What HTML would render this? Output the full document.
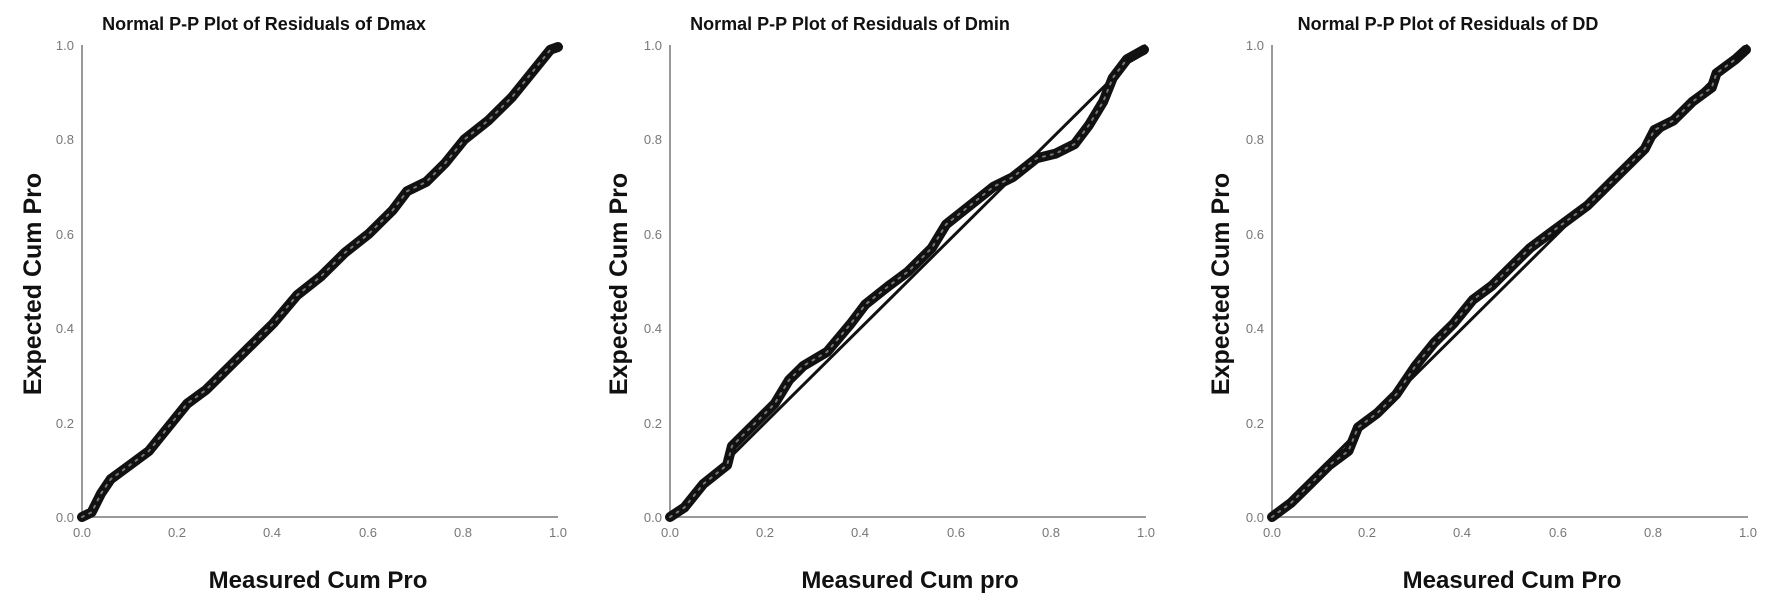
<!DOCTYPE html>
<html><head><meta charset="utf-8"><style>
html,body{margin:0;padding:0;background:#fff;width:1772px;height:596px;overflow:hidden}
svg{display:block}
.t{font-family:"Liberation Sans",Arial,sans-serif;font-weight:bold;fill:#111}
.k{font-family:"Liberation Sans",Arial,sans-serif;font-size:13px;fill:#777}
</style></head><body>
<svg width="1772" height="596" viewBox="0 0 1772 596" xmlns="http://www.w3.org/2000/svg">

<!-- Plot 1 -->
<g transform="translate(82,45)">
<line x1="0" y1="0" x2="0" y2="472" stroke="#999" stroke-width="2"/>
<line x1="0" y1="472" x2="476" y2="472" stroke="#999" stroke-width="2"/>
<g class="k" text-anchor="end">
<text x="-8" y="5">1.0</text><text x="-8" y="99">0.8</text><text x="-8" y="194">0.6</text><text x="-8" y="288">0.4</text><text x="-8" y="383">0.2</text><text x="-8" y="477">0.0</text>
</g>
<g class="k" text-anchor="middle">
<text x="0" y="492">0.0</text><text x="95" y="492">0.2</text><text x="190" y="492">0.4</text><text x="286" y="492">0.6</text><text x="381" y="492">0.8</text><text x="476" y="492">1.0</text>
</g>
<polyline fill="none" stroke="#111" stroke-width="10" stroke-linejoin="round" stroke-linecap="round" points="0,472 9.6,467.3 19.1,448.4 28.7,434.2 47.8,420.1 66.9,406 86,382.4 105.2,358.7 124.3,344.6 143.4,325.7 167.3,302.1 191.2,278.5 215.1,250.2 239,231.3 262.9,207.7 286.8,188.8 310.7,165.2 325,146.3 344.2,136.9 363.3,118 382.4,94.4 406.3,75.5 430.2,51.9 449.3,28.3 468.4,4.7 476,2"/>
<polyline fill="none" stroke="#777" stroke-width="2" stroke-dasharray="2 6" stroke-linecap="round" points="0,472 9.6,467.3 19.1,448.4 28.7,434.2 47.8,420.1 66.9,406 86,382.4 105.2,358.7 124.3,344.6 143.4,325.7 167.3,302.1 191.2,278.5 215.1,250.2 239,231.3 262.9,207.7 286.8,188.8 310.7,165.2 325,146.3 344.2,136.9 363.3,118 382.4,94.4 406.3,75.5 430.2,51.9 449.3,28.3 468.4,4.7"/>
</g>
<text class="t" x="264" y="30" font-size="18" text-anchor="middle">Normal P-P Plot of Residuals of Dmax</text>
<text class="t" x="318" y="588" font-size="24" text-anchor="middle">Measured Cum Pro</text>
<text class="t" font-size="25" text-anchor="middle" transform="translate(41,284) rotate(-90)">Expected Cum Pro</text>

<!-- Plot 2 -->
<g transform="translate(670,45)">
<line x1="0" y1="0" x2="0" y2="472" stroke="#999" stroke-width="2"/>
<line x1="0" y1="472" x2="476" y2="472" stroke="#999" stroke-width="2"/>
<g class="k" text-anchor="end">
<text x="-8" y="5">1.0</text><text x="-8" y="99">0.8</text><text x="-8" y="194">0.6</text><text x="-8" y="288">0.4</text><text x="-8" y="383">0.2</text><text x="-8" y="477">0.0</text>
</g>
<g class="k" text-anchor="middle">
<text x="0" y="492">0.0</text><text x="95" y="492">0.2</text><text x="190" y="492">0.4</text><text x="286" y="492">0.6</text><text x="381" y="492">0.8</text><text x="476" y="492">1.0</text>
</g>
<line x1="0" y1="472" x2="476" y2="0" stroke="#111" stroke-width="3"/>
<polyline fill="none" stroke="#111" stroke-width="10" stroke-linejoin="round" stroke-linecap="round" points="0,472 14.3,462.6 33.3,439 57.1,420.1 61.9,401.2 85.7,377.6 104.7,358.7 119,335.1 133.3,320.9 157.1,306.8 180.9,278.5 195.2,259.6 219,240.7 238,226.6 261.8,203 276.1,179.4 299.9,160.5 323.7,141.6 342.7,132.2 366.5,113.3 385.6,108.6 404.6,99.1 418.9,80.2 433.2,56.6 442.7,33 457,14.2 474,4.7"/>
<polyline fill="none" stroke="#777" stroke-width="2" stroke-dasharray="2 6" stroke-linecap="round" points="0,472 14.3,462.6 33.3,439 57.1,420.1 61.9,401.2 85.7,377.6 104.7,358.7 119,335.1 133.3,320.9 157.1,306.8 180.9,278.5 195.2,259.6 219,240.7 238,226.6 261.8,203 276.1,179.4 299.9,160.5 323.7,141.6 342.7,132.2 366.5,113.3 385.6,108.6 404.6,99.1 418.9,80.2 433.2,56.6 442.7,33 457,14.2"/>
</g>
<text class="t" x="850" y="30" font-size="18" text-anchor="middle">Normal P-P Plot of Residuals of Dmin</text>
<text class="t" x="910" y="588" font-size="24" text-anchor="middle">Measured Cum pro</text>
<text class="t" font-size="25" text-anchor="middle" transform="translate(627,284) rotate(-90)">Expected Cum Pro</text>

<!-- Plot 3 -->
<g transform="translate(1272,45)">
<line x1="0" y1="0" x2="0" y2="472" stroke="#999" stroke-width="2"/>
<line x1="0" y1="472" x2="476" y2="472" stroke="#999" stroke-width="2"/>
<g class="k" text-anchor="end">
<text x="-8" y="5">1.0</text><text x="-8" y="99">0.8</text><text x="-8" y="194">0.6</text><text x="-8" y="288">0.4</text><text x="-8" y="383">0.2</text><text x="-8" y="477">0.0</text>
</g>
<g class="k" text-anchor="middle">
<text x="0" y="492">0.0</text><text x="95" y="492">0.2</text><text x="190" y="492">0.4</text><text x="286" y="492">0.6</text><text x="381" y="492">0.8</text><text x="476" y="492">1.0</text>
</g>
<line x1="0" y1="472" x2="476" y2="0" stroke="#111" stroke-width="3"/>
<polyline fill="none" stroke="#111" stroke-width="10" stroke-linejoin="round" stroke-linecap="round" points="0,472 19.1,457.8 38.2,439 57.4,420.1 76.5,405.9 86,382.4 105.2,368.2 124.3,349.3 143.4,321 162.5,297.4 181.6,278.5 200.8,254.9 219.9,240.7 239,221.8 258.1,203 277.2,188.8 296.4,174.6 315.5,160.5 334.6,141.6 353.7,122.7 372.8,103.8 382.4,85 401.5,75.5 420.6,56.6 439.8,42.5 444.5,28.3 463.6,14.2 474,4.7"/>
<polyline fill="none" stroke="#777" stroke-width="2" stroke-dasharray="2 6" stroke-linecap="round" points="0,472 19.1,457.8 38.2,439 57.4,420.1 76.5,405.9 86,382.4 105.2,368.2 124.3,349.3 143.4,321 162.5,297.4 181.6,278.5 200.8,254.9 219.9,240.7 239,221.8 258.1,203 277.2,188.8 296.4,174.6 315.5,160.5 334.6,141.6 353.7,122.7 372.8,103.8 382.4,85 401.5,75.5 420.6,56.6 439.8,42.5 444.5,28.3 463.6,14.2"/>
</g>
<text class="t" x="1448" y="30" font-size="18" text-anchor="middle">Normal P-P Plot of Residuals of DD</text>
<text class="t" x="1512" y="588" font-size="24" text-anchor="middle">Measured Cum Pro</text>
<text class="t" font-size="25" text-anchor="middle" transform="translate(1229,284) rotate(-90)">Expected Cum Pro</text>
</svg>
</body></html>
